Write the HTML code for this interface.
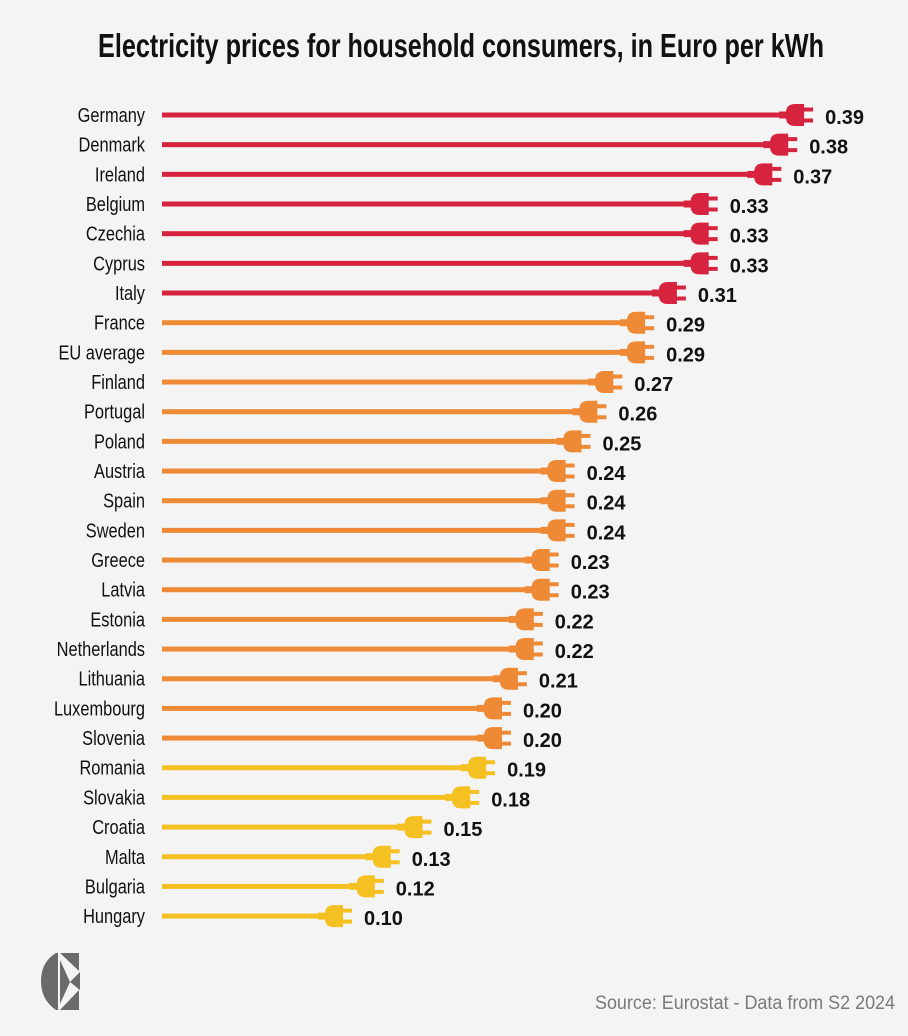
<!DOCTYPE html>
<html><head><meta charset="utf-8"><style>
html,body{margin:0;padding:0;background:#f4f4f4;}
svg{display:block;font-family:"Liberation Sans Narrow","Liberation Sans",sans-serif;}
</style></head><body>
<svg id="chart" width="908" height="1036" viewBox="0 0 908 1036">
<rect width="908" height="1036" fill="#f4f4f4"/>
<text x="461" y="57" text-anchor="middle" font-size="33" font-weight="bold" fill="#111" textLength="726" lengthAdjust="spacingAndGlyphs">Electricity prices for household consumers, in Euro per kWh</text>
<g id="rows"></g>
<g>
<path d="M56 953 L58 953 L58 1010 L56 1010 Q41 1000 41 981 Q41 962 56 953 Z" fill="#6a6a6a"/>
<path d="M60 953 L79 953 L79 971 L60 953 Z M60 960 L60 1004 L70 982 Z M79 990 L79 1010 L60 1010 Z M80 972 L80 990 L70 982 Z" fill="#6a6a6a"/>
</g>
<text x="895" y="1009" text-anchor="end" font-size="19" fill="#7a7a7a" textLength="300" lengthAdjust="spacingAndGlyphs">Source: Eurostat - Data from S2 2024</text>
</svg>
<script>
const countries=["Germany","Denmark","Ireland","Belgium","Czechia","Cyprus","Italy","France","EU average","Finland","Portugal","Poland","Austria","Spain","Sweden","Greece","Latvia","Estonia","Netherlands","Lithuania","Luxembourg","Slovenia","Romania","Slovakia","Croatia","Malta","Bulgaria","Hungary"];
const prices=[0.39,0.38,0.37,0.33,0.33,0.33,0.31,0.29,0.29,0.27,0.26,0.25,0.24,0.24,0.24,0.23,0.23,0.22,0.22,0.21,0.20,0.20,0.19,0.18,0.15,0.13,0.12,0.10];
const labels=["0.39","0.38","0.37","0.33","0.33","0.33","0.31","0.29","0.29","0.27","0.26","0.25","0.24","0.24","0.24","0.23","0.23","0.22","0.22","0.21","0.20","0.20","0.19","0.18","0.15","0.13","0.12","0.10"];
const NS="http://www.w3.org/2000/svg";
const xScale=v=>193+1590*v;
const yScale=i=>115+i*29.67;
const color=v=>v>=0.305?"#d6243f":(v>=0.195?"#ee8a35":"#f5c022");
const g=document.getElementById("rows");
function mk(tag,attrs,parent){const e=document.createElementNS(NS,tag);for(const k in attrs)e.setAttribute(k,attrs[k]);parent.appendChild(e);return e;}
countries.forEach((c,i)=>{
  const v=prices[i],T=xScale(v),y=yScale(i),col=color(v);
  const row=mk("g",{},g);
  
  
  const lab=mk("text",{x:0,y:0,transform:`translate(145,${y+7}) scale(0.82,1)`,"text-anchor":"end","font-size":20,fill:"#111"},row);
  lab.textContent=c;
  
  
  const line=mk("rect",{x:162,y:y-2.5,width:T-27-162,height:5,fill:col},row);
  
  
  const plug=mk("path",{fill:col,d:`M${T-34} ${y-3.5} L${T-27} ${y-3.5} L${T-27} ${y-4} Q${T-26} ${y-11} ${T-18} ${y-11} L${T-9} ${y-11} L${T-9} ${y+11} L${T-18} ${y+11} Q${T-26} ${y+11} ${T-27} ${y+4} L${T-27} ${y+3.5} L${T-34} ${y+3.5} Z M${T-9} ${y-7.5} L${T} ${y-7.5} L${T} ${y-3.5} L${T-9} ${y-3.5} Z M${T-9} ${y+3.5} L${T} ${y+3.5} L${T} ${y+7.5} L${T-9} ${y+7.5} Z`},row);
  
  
  const val=mk("text",{x:T+12,y:y+9,"font-size":20,"font-weight":"bold",fill:"#111"},row);
  val.textContent=labels[i];
  
  
});
</script>
</body></html>
